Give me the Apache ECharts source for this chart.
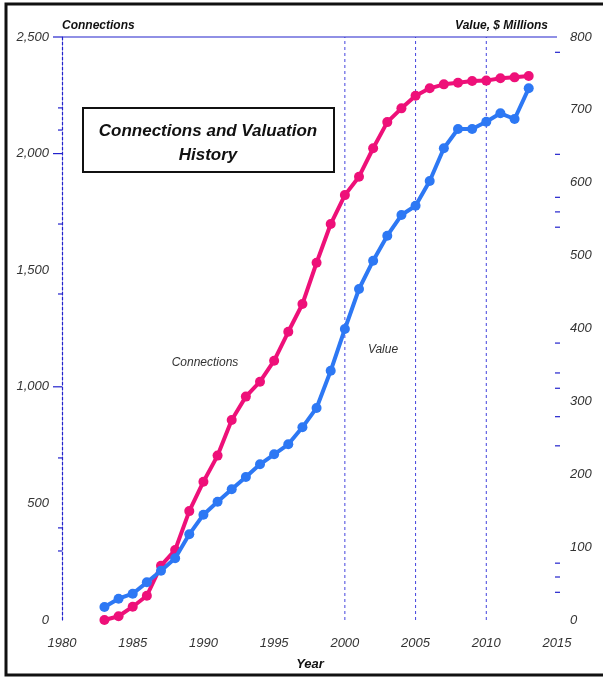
<!DOCTYPE html>
<html>
<head>
<meta charset="utf-8">
<script src="https://cdn.jsdelivr.net/npm/echarts@6/dist/echarts.min.js"></script>
<style>
html,body{margin:0;padding:0;background:#fff;}
#chart{width:603px;height:678px;}
</style>
</head>
<body>
<div id="chart"></div>
<script>
var years = [1983,1984,1985,1986,1987,1988,1989,1990,1991,1992,1993,1994,1995,1996,1997,1998,1999,2000,2001,2002,2003,2004,2005,2006,2007,2008,2009,2010,2011,2012,2013];
var connections = [0,16,57,104,233,300,467,593,705,858,958,1022,1112,1236,1355,1532,1698,1822,1901,2023,2135,2194,2248,2280,2297,2304,2311,2313,2323,2327,2333];
var valueMillions = [17.8,29.2,36.1,51.7,67.6,84.7,117.6,144.5,162.3,179.3,196.2,213.6,227.4,241.1,264.4,291,342,399.3,454.2,493,527.3,555.7,568.5,602.4,647.3,673.8,673.8,683.8,695.3,687.5,729.6];
var leftMajorTicks = [2500,2000,1000];
var leftMinorTicks = [2196,2101,1698,1398,695,395,296];
var rightMinorTicks = [779,639,580,560,539,380,339,318,279,239,78,59,38];
var gridYears = [2000,2005,2010];

var PINK = '#EE1079';
var BLUE = '#2D78F4';
var AXBLUE = '#2222CC';
var GRIDBLUE = '#4444DD';
var FONT = '"Liberation Sans", Arial, sans-serif';

function pairs(ys){ return years.map(function(y,i){ return [y, ys[i]]; }); }

var chart = echarts.init(document.getElementById('chart'));
var labelStyle = {color:'#333', fontStyle:'italic', fontSize:13, fontFamily:FONT};

function tickSeries(vals, axisIdx, xVal, x0, x1){
  return {
    type:'custom', yAxisIndex:axisIdx, silent:true, z:5,
    data: vals.map(function(v){ return [xVal, v]; }),
    renderItem: function(params, api){
      var p = api.coord([api.value(0), api.value(1)]);
      return {type:'line', shape:{x1:p[0]+x0, y1:p[1], x2:p[0]+x1, y2:p[1]},
        style:{stroke:AXBLUE, lineWidth:1.2}};
    }
  };
}

chart.setOption({
  animation:false,
  backgroundColor:'#fff',
  grid:{left:62, right:46, top:37, bottom:58},
  xAxis:{
    type:'value', min:1980, max:2015, interval:5,
    axisLine:{show:false}, axisTick:{show:false}, splitLine:{show:false},
    axisLabel:Object.assign({margin:17, formatter:function(v){return String(v);}}, labelStyle)
  },
  yAxis:[
    {type:'value', min:0, max:2500, interval:500, position:'left',
     axisLine:{show:true, lineStyle:{color:AXBLUE, type:[3,2], width:1.2}},
     axisTick:{show:false}, splitLine:{show:false},
     axisLabel:Object.assign({margin:13, formatter:function(v){return v.toLocaleString('en-US');}}, labelStyle)},
    {type:'value', min:0, max:800, interval:100, position:'right',
     axisLine:{show:false}, axisTick:{show:false}, splitLine:{show:false},
     axisLabel:Object.assign({margin:13}, labelStyle)}
  ],
  series:[
    {type:'custom', yAxisIndex:0, silent:true, z:1,
     data: gridYears.map(function(y){ return [y, 0]; }),
     renderItem:function(params, api){
       var a = api.coord([api.value(0), 0]);
       var b = api.coord([api.value(0), 2500]);
       return {type:'line', shape:{x1:a[0], y1:a[1], x2:b[0], y2:b[1]},
         style:{stroke:GRIDBLUE, lineWidth:1, lineDash:[3,3]}};
     }},
    {type:'custom', yAxisIndex:0, silent:true, z:2,
     data: [[1980, 2500]],
     renderItem:function(params, api){
       var a = api.coord([1980, api.value(1)]);
       var b = api.coord([2015, api.value(1)]);
       return {type:'line', shape:{x1:a[0], y1:a[1], x2:b[0], y2:b[1]},
         style:{stroke:AXBLUE, lineWidth:1.2}};
     }},
    {type:'line', yAxisIndex:0, data:pairs(connections), z:3,
     lineStyle:{color:PINK, width:4}, itemStyle:{color:PINK},
     symbol:'circle', symbolSize:10, showSymbol:true},
    {type:'line', yAxisIndex:1, data:pairs(valueMillions), z:4,
     lineStyle:{color:BLUE, width:4}, itemStyle:{color:BLUE},
     symbol:'circle', symbolSize:10, showSymbol:true},
    tickSeries(leftMajorTicks, 0, 1980, -9, 0),
    tickSeries(leftMinorTicks, 0, 1980, -4, 0),
    tickSeries(rightMinorTicks, 1, 2015, -2, 3)
  ],
  graphic:[
    {type:'rect', shape:{x:6, y:4, width:606, height:671}, style:{fill:null, stroke:'#111', lineWidth:3}, z:100},
    {type:'rect', shape:{x:83, y:108, width:251, height:64}, style:{fill:'#fff', stroke:'#111', lineWidth:2}, z:50},
    {type:'text', x:208, y:131, style:{text:'Connections and Valuation', fontSize:17, fontWeight:'bold', fontStyle:'italic', fontFamily:FONT, fill:'#111', textAlign:'center', textVerticalAlign:'middle'}, z:51},
    {type:'text', x:208, y:155, style:{text:'History', fontSize:17, fontWeight:'bold', fontStyle:'italic', fontFamily:FONT, fill:'#111', textAlign:'center', textVerticalAlign:'middle'}, z:51},
    {type:'text', x:62, y:26, style:{text:'Connections', fontSize:12, fontWeight:'bold', fontStyle:'italic', fontFamily:FONT, fill:'#111', textAlign:'left', textVerticalAlign:'middle'}},
    {type:'text', x:548, y:26, style:{text:'Value, $ Millions', fontSize:12, fontWeight:'bold', fontStyle:'italic', fontFamily:FONT, fill:'#111', textAlign:'right', textVerticalAlign:'middle'}},
    {type:'text', x:310, y:664, style:{text:'Year', fontSize:13, fontWeight:'bold', fontStyle:'italic', fontFamily:FONT, fill:'#111', textAlign:'center', textVerticalAlign:'middle'}},
    {type:'text', x:205, y:363, style:{text:'Connections', fontSize:12, fontStyle:'italic', fontFamily:FONT, fill:'#333', textAlign:'center', textVerticalAlign:'middle'}},
    {type:'text', x:383, y:350, style:{text:'Value', fontSize:12, fontStyle:'italic', fontFamily:FONT, fill:'#333', textAlign:'center', textVerticalAlign:'middle'}}
  ]
});
</script>
</body>
</html>
